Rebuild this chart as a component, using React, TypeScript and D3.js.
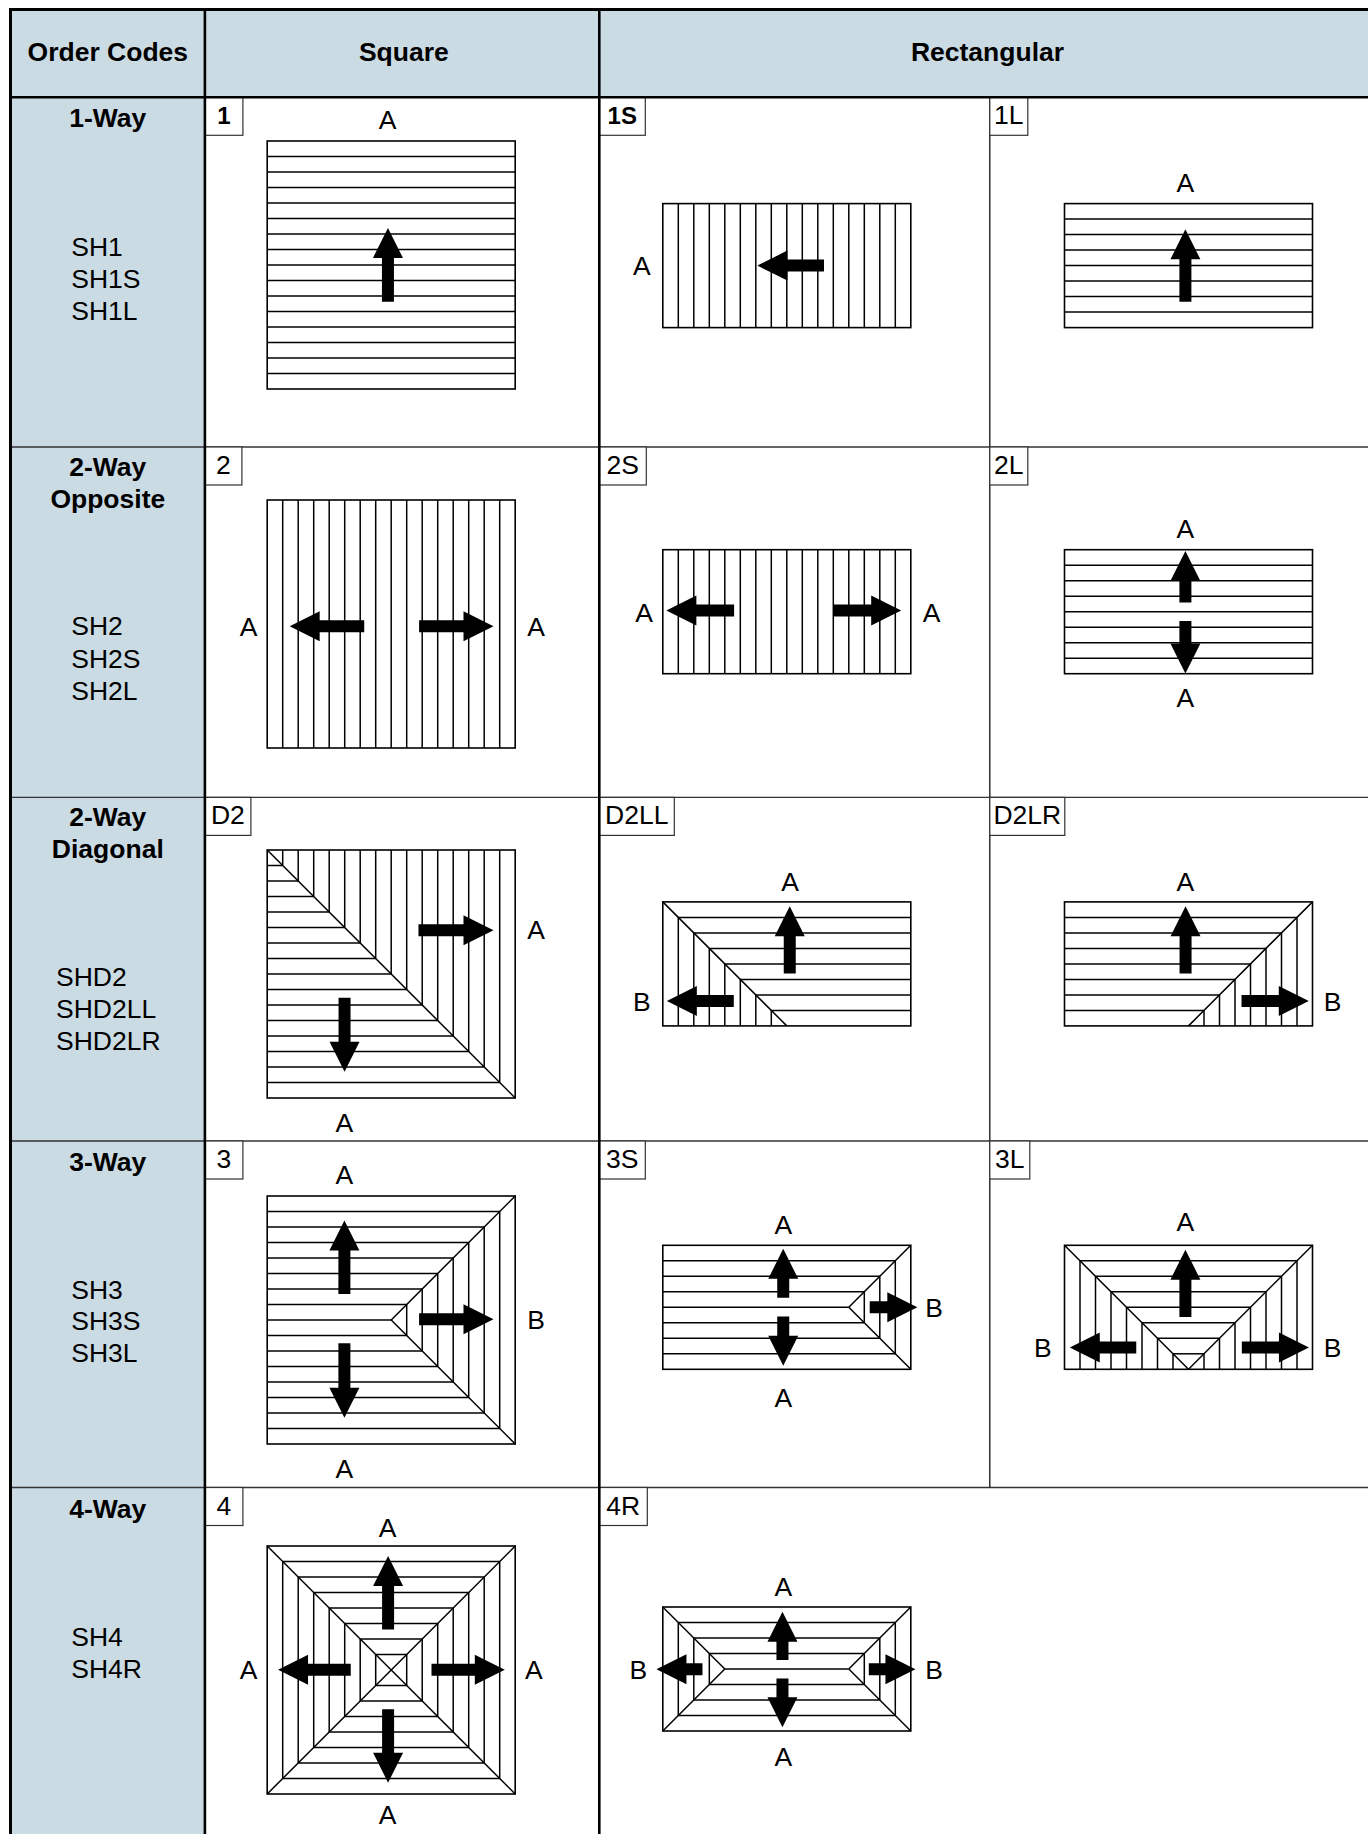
import React from "react";
import * as d3 from "d3";

const FONT = '"Liberation Sans", Arial, Helvetica, sans-serif';
const BLUE = "#cbdbe4";

// table layout
const colEdges = [10.5, 204.9, 599.3, 989.8, 1368];
const rowEdges = [9.5, 97.3, 447, 797.4, 1141, 1487.5, 1834];
const headers = ["Order Codes", "Square", "Rectangular"];
const headerX = [107.8, 403.8, 987.5];

// row titles
const rowTitles = [["1-Way"], ["2-Way", "Opposite"], ["2-Way", "Diagonal"], ["3-Way"], ["4-Way"]];
const rowTitleBase = [[127], [476, 507.6], [825.6, 857.6], [1170.5], [1517.7]];
const rowCodes = [
  ["SH1", "SH1S", "SH1L"],
  ["SH2", "SH2S", "SH2L"],
  ["SHD2", "SHD2LL", "SHD2LR"],
  ["SH3", "SH3S", "SH3L"],
  ["SH4", "SH4R"],
];
const rowCodeX = [71.3, 71.3, 56, 71.3, 71.3];
const rowCodeBase = [
  [255.5, 287.7, 319.7],
  [635.2, 667.6, 699.7],
  [985.6, 1017.7, 1049.8],
  [1298.8, 1330.4, 1361.8],
  [1645.8, 1677.6],
];

// grid
const UNIT = 15.5;
const GRID = 16;
const colX = [267.2, 662.8, 1064.5];
const squareY = [141, 500, 850, 1196, 1546];
const rectY = [203.6, 549.7, 901.9, 1245.3, 1607];

type Arrow = [number, number, number, number]; // tail x, tail y, tip x, tip y in grid units
type Label = [string, number, number];
interface Panel {
  code: string;
  bold?: boolean;
  boxW: number;
  row: number;
  col: number;
  kind: string;
  arrows: Arrow[];
  labels: Label[];
}

const panels: Panel[] = [
  { code: "1", bold: true, boxW: 38, row: 0, col: 0, kind: "h",
    arrows: [[7.79, 10.37, 7.79, 5.61]], labels: [["A", 7.77, -1.36]] },
  { code: "1S", bold: true, boxW: 46, row: 0, col: 1, kind: "v",
    arrows: [[10.4, 4, 6.1, 4]], labels: [["A", -1.36, 4]] },
  { code: "1L", boxW: 38, row: 0, col: 2, kind: "h",
    arrows: [[7.8, 6.33, 7.8, 1.66]], labels: [["A", 7.8, -1.36]] },

  { code: "2", boxW: 37, row: 1, col: 0, kind: "v",
    arrows: [[6.26, 8.14, 1.45, 8.14], [9.8, 8.14, 14.6, 8.14]], labels: [["A", -1.2, 8.2], ["A", 17.34, 8.2]] },
  { code: "2S", boxW: 47, row: 1, col: 1, kind: "v",
    arrows: [[4.6, 3.92, 0.23, 3.92], [11, 3.92, 15.38, 3.92]], labels: [["A", -1.2, 4.07], ["A", 17.34, 4.07]] },
  { code: "2L", boxW: 38, row: 1, col: 2, kind: "h",
    arrows: [[7.8, 3.4, 7.8, 0.08], [7.8, 4.6, 7.8, 7.98]], labels: [["A", 7.8, -1.36], ["A", 7.8, 9.58]] },

  { code: "D2", boxW: 46, row: 2, col: 0, kind: "diag",
    arrows: [[9.76, 5.18, 14.6, 5.18], [4.99, 9.53, 4.99, 14.3]], labels: [["A", 17.34, 5.16], ["A", 4.98, 17.57]] },
  { code: "D2LL", boxW: 75, row: 2, col: 1, kind: "leftV",
    arrows: [[8.19, 4.62, 8.19, 0.28], [4.58, 6.39, 0.26, 6.39]], labels: [["A", 8.22, -1.28], ["B", -1.36, 6.41]] },
  { code: "D2LR", boxW: 75, row: 2, col: 2, kind: "rightV",
    arrows: [[7.81, 4.62, 7.81, 0.28], [11.42, 6.39, 15.76, 6.39]], labels: [["A", 7.8, -1.28], ["B", 17.3, 6.41]] },

  { code: "3", boxW: 38, row: 3, col: 0, kind: "sideArrow",
    arrows: [[4.98, 6.33, 4.98, 1.58], [4.98, 9.5, 4.98, 14.3], [9.8, 7.95, 14.6, 7.95]],
    labels: [["A", 4.98, -1.36], ["B", 17.34, 7.98], ["A", 4.98, 17.57]] },
  { code: "3S", boxW: 46, row: 3, col: 1, kind: "sideArrow",
    arrows: [[7.77, 3.39, 7.77, 0.23], [7.77, 4.6, 7.77, 7.77], [13.35, 4, 16.42, 4]],
    labels: [["A", 7.77, -1.36], ["B", 17.5, 4.03], ["A", 7.77, 9.8]] },
  { code: "3L", boxW: 40, row: 3, col: 2, kind: "chevron",
    arrows: [[7.8, 4.63, 7.8, 0.28], [4.63, 6.6, 0.34, 6.6], [11.44, 6.6, 15.77, 6.6]],
    labels: [["A", 7.8, -1.55], ["B", -1.4, 6.6], ["B", 17.3, 6.6]] },

  { code: "4", boxW: 38, row: 4, col: 0, kind: "hip",
    arrows: [[7.8, 5.38, 7.8, 0.65], [7.8, 10.54, 7.8, 15.27], [5.39, 7.98, 0.7, 7.98], [10.6, 7.98, 15.33, 7.98]],
    labels: [["A", 7.77, -1.2], ["A", -1.2, 8], ["A", 17.2, 8], ["A", 7.77, 17.35]] },
  { code: "4R", boxW: 48, row: 4, col: 1, kind: "hip",
    arrows: [[7.72, 3.42, 7.72, 0.3], [7.72, 4.62, 7.72, 7.76], [2.56, 4.02, -0.41, 4.02], [13.29, 4.02, 16.3, 4.02]],
    labels: [["A", 7.77, -1.28], ["B", -1.58, 4.07], ["B", 17.5, 4.07], ["A", 7.77, 9.65]] },
];

type Seg = [number, number, number, number];

function segments(kind: string, h: number): Seg[] {
  const W = GRID;
  const mid = h / 2;
  const out: Seg[] = [];
  if (kind === "h") d3.range(1, h).forEach((k) => out.push([0, k, W, k]));
  if (kind === "v") d3.range(1, W).forEach((k) => out.push([k, 0, k, h]));
  if (kind === "diag") {
    out.push([0, 0, W, W]);
    d3.range(1, W).forEach((k) => {
      out.push([k, 0, k, k]);
      out.push([0, k, k, k]);
    });
  }
  if (kind === "leftV") {
    out.push([0, 0, h, h]);
    d3.range(1, h).forEach((k) => {
      out.push([k, k, W, k]);
      out.push([k, k, k, h]);
    });
  }
  if (kind === "rightV") {
    out.push([W, 0, W - h, h]);
    d3.range(1, h).forEach((k) => {
      out.push([0, k, W - k, k]);
      out.push([W - k, k, W - k, h]);
    });
  }
  if (kind === "sideArrow") {
    out.push([W, 0, W - mid, mid], [W, h, W - mid, mid], [0, mid, W - mid, mid]);
    d3.range(1, mid).forEach((k) => {
      out.push([0, k, W - k, k], [0, h - k, W - k, h - k], [W - k, k, W - k, h - k]);
    });
  }
  if (kind === "chevron") {
    out.push([0, 0, h, h], [W, 0, W - h, h]);
    d3.range(1, h).forEach((k) => {
      out.push([k, k, W - k, k], [k, k, k, h], [W - k, k, W - k, h]);
    });
  }
  if (kind === "hip") {
    out.push([0, 0, mid, mid], [W, 0, W - mid, mid], [0, h, mid, mid], [W, h, W - mid, mid]);
    if (W - mid > mid) out.push([mid, mid, W - mid, mid]);
    d3.range(1, mid).forEach((k) => {
      out.push([k, k, W - k, k], [k, h - k, W - k, h - k], [k, k, k, h - k], [W - k, k, W - k, h - k]);
    });
  }
  return out;
}

const SHAFT = 12;
const HEAD_W = 30;
const HEAD_L = 30;
const lineGen = d3.line<[number, number]>().x((d) => d[0]).y((d) => d[1]);

function arrowPath(x0: number, y0: number, x1: number, y1: number): string {
  const len = Math.hypot(x1 - x0, y1 - y0);
  const ux = (x1 - x0) / len;
  const uy = (y1 - y0) / len;
  const nx = -uy;
  const ny = ux;
  const bx = x1 - ux * HEAD_L;
  const by = y1 - uy * HEAD_L;
  const pts: [number, number][] = [
    [x0 + (nx * SHAFT) / 2, y0 + (ny * SHAFT) / 2],
    [bx + (nx * SHAFT) / 2, by + (ny * SHAFT) / 2],
    [bx + (nx * HEAD_W) / 2, by + (ny * HEAD_W) / 2],
    [x1, y1],
    [bx - (nx * HEAD_W) / 2, by - (ny * HEAD_W) / 2],
    [bx - (nx * SHAFT) / 2, by - (ny * SHAFT) / 2],
    [x0 - (nx * SHAFT) / 2, y0 - (ny * SHAFT) / 2],
  ];
  return lineGen(pts) + "Z";
}

function PanelView({ p }: { p: Panel }) {
  const isSquare = p.col === 0;
  const h = isSquare ? GRID : GRID / 2;
  const x0 = colX[p.col];
  const y0 = isSquare ? squareY[p.row] : rectY[p.row];
  const x = d3.scaleLinear().domain([0, GRID]).range([x0, x0 + GRID * UNIT]);
  const y = d3.scaleLinear().domain([0, h]).range([y0, y0 + h * UNIT]);
  const cellX = colEdges[p.col + 1];
  const cellY = rowEdges[p.row + 1];
  return (
    <g>
      <rect x={cellX} y={cellY} width={p.boxW} height={38} fill="#fff" stroke="#333" strokeWidth={1.2} />
      <text
        x={cellX + p.boxW / 2}
        y={cellY + 27}
        fontSize={p.bold ? 24 : 26.5}
        fontWeight={p.bold ? 700 : 400}
        textAnchor="middle"
      >
        {p.code}
      </text>
      <rect x={x(0)} y={y(0)} width={x(GRID) - x(0)} height={y(h) - y(0)} fill="#fff" stroke="#000" strokeWidth={1.6} />
      {segments(p.kind, h).map((s, i) => (
        <line key={i} x1={x(s[0])} y1={y(s[1])} x2={x(s[2])} y2={y(s[3])} stroke="#000" strokeWidth={1.5} />
      ))}
      {p.arrows.map((a, i) => (
        <path key={i} d={arrowPath(x(a[0]), y(a[1]), x(a[2]), y(a[3]))} fill="#000" />
      ))}
      {p.labels.map((l, i) => (
        <text key={i} x={x(l[1])} y={y(l[2]) + 9.3} fontSize={26.5} textAnchor="middle">
          {l[0]}
        </text>
      ))}
    </g>
  );
}

export default function App() {
  const [c0, c1, c2, c3, c4] = colEdges;
  const [r0, r1, r2, r3, r4, r5, r6] = rowEdges;
  return (
    <svg
      width={1368}
      height={1834}
      viewBox="0 0 1368 1834"
      style={{ position: "absolute", left: 0, top: 0, display: "block", background: "#fff" }}
      fontFamily={FONT}
      fill="#000"
    >
      <rect x={c0} y={r0} width={c4 - c0} height={r1 - r0} fill={BLUE} />
      <rect x={c0} y={r1} width={c1 - c0} height={r6 - r1} fill={BLUE} />

      {headers.map((t, i) => (
        <text key={t} x={headerX[i]} y={61} fontSize={26.5} fontWeight={700} textAnchor="middle">
          {t}
        </text>
      ))}

      {rowEdges.slice(2, 6).map((ry) => (
        <line key={ry} x1={c0} x2={c4} y1={ry} y2={ry} stroke="#333" strokeWidth={1.4} />
      ))}
      <line x1={c3} x2={c3} y1={r1} y2={r5} stroke="#222" strokeWidth={1.4} />

      {rowTitles.map((lines, i) =>
        lines.map((t, j) => (
          <text key={i + "-" + j} x={107.8} y={rowTitleBase[i][j]} fontSize={26.5} fontWeight={700} textAnchor="middle">
            {t}
          </text>
        ))
      )}
      {rowCodes.map((lines, i) =>
        lines.map((t, j) => (
          <text key={t} x={rowCodeX[i]} y={rowCodeBase[i][j]} fontSize={26.5}>
            {t}
          </text>
        ))
      )}

      {panels.map((p) => (
        <PanelView key={p.code} p={p} />
      ))}

      <line x1={c0} x2={c4} y1={r1} y2={r1} stroke="#000" strokeWidth={2.6} />
      <line x1={c1} x2={c1} y1={r0} y2={r6} stroke="#000" strokeWidth={2.6} />
      <line x1={c2} x2={c2} y1={r0} y2={r6} stroke="#000" strokeWidth={2.6} />
      <line x1={c0 - 1.5} x2={c4} y1={r0} y2={r0} stroke="#000" strokeWidth={3} />
      <line x1={c0} x2={c0} y1={r0} y2={r6} stroke="#000" strokeWidth={3} />
    </svg>
  );
}
